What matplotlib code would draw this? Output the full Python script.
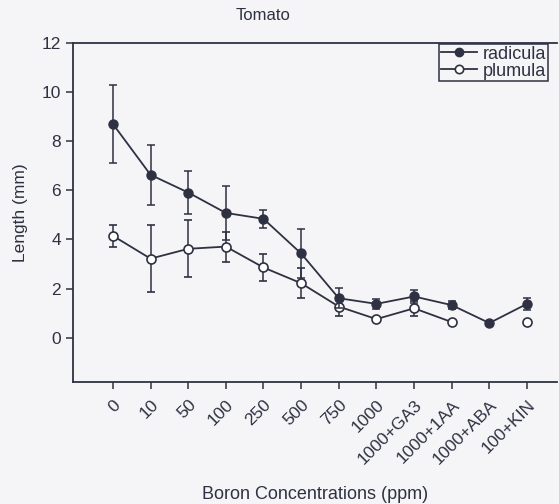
import numpy as np
import matplotlib.pyplot as plt
from matplotlib.lines import Line2D

plt.rcParams['font.family'] = ['Liberation Sans', 'DejaVu Sans']

# treatments on the x axis
labels = ["0", "10", "50", "100", "250", "500", "750", "1000",
          "1000+GA3", "1000+1AA", "1000+ABA", "100+KIN"]

# radicula length (mm) and error
radicula = [8.7, 6.63, 5.91, 5.08, 4.84, 3.43, 1.61, 1.38, 1.68, 1.33, 0.6, 1.38]
radicula_err = [1.6, 1.22, 0.88, 1.1, 0.36, 1.0, 0.4, 0.2, 0.28, 0.15, 0.05, 0.25]

# plumula length (mm) and error, no value for 1000+ABA
plumula = [4.15, 3.22, 3.62, 3.71, 2.86, 2.22, 1.27, 0.76, 1.2, 0.64, np.nan, 0.64]
plumula_err = [0.44, 1.36, 1.16, 0.61, 0.54, 0.6, 0.38, 0.05, 0.3, 0.05, np.nan, 0.05]

ink = '#2e3142'
bg = '#f5f5f7'
x = np.arange(len(labels))

fig = plt.figure(figsize=(5.59, 5.04), dpi=100, facecolor=bg)
ax = fig.add_axes([0.1306, 0.242, 0.866, 0.673])
ax.set_facecolor(bg)

ax.errorbar(x, plumula, yerr=plumula_err, color=ink, lw=1.3, marker='o',
            ms=6.5, mfc='white', mec=ink, mew=1.2, capsize=3, elinewidth=1.1,
            capthick=1.1, zorder=2)
ax.errorbar(x, radicula, yerr=radicula_err, color=ink, lw=1.3, marker='o',
            ms=6.5, mfc=ink, mec=ink, capsize=3, elinewidth=1.1,
            capthick=1.1, zorder=3)

ax.set_xlim(-1.06, 11.8)
ax.set_ylim(-1.8, 12)
ax.set_yticks([0, 2, 4, 6, 8, 10, 12])
ax.set_xticks(x)
ax.set_xticklabels(labels, rotation=45, ha='right', rotation_mode='anchor')
ax.tick_params(colors=ink, labelsize=12.5, length=5, width=1.1, direction='out')
ax.tick_params(axis='x', pad=6)
for s in ['left', 'bottom', 'top']:
    ax.spines[s].set_color(ink)
    ax.spines[s].set_linewidth(1.3)
ax.spines['right'].set_visible(False)

ax.set_ylabel('Length (mm)', fontsize=12.5, color=ink, labelpad=10)
ax.set_xlabel('Boron Concentrations (ppm)', fontsize=13, color=ink, labelpad=14)
fig.text(263 / 559, 1 - 15 / 504, 'Tomato', ha='center', va='center',
         fontsize=12, color=ink)

handles = [
    Line2D([], [], color=ink, lw=1.3, marker='o', ms=6, mfc=ink, mec=ink),
    Line2D([], [], color=ink, lw=1.3, marker='o', ms=6, mfc='white', mec=ink, mew=1.2),
]
leg = ax.legend(handles, ['radicula', 'plumula'], loc='upper right',
                bbox_to_anchor=(0.983, 1.0), fontsize=13, frameon=True,
                fancybox=False, edgecolor=ink, framealpha=1,
                facecolor=bg, handlelength=2.0, handletextpad=0.3,
                borderpad=0.1, labelspacing=0.0, borderaxespad=0.05)
leg.get_frame().set_linewidth(1.1)
for t in leg.get_texts():
    t.set_color(ink)

fig.savefig('out.png', dpi=100, facecolor=fig.get_facecolor())
